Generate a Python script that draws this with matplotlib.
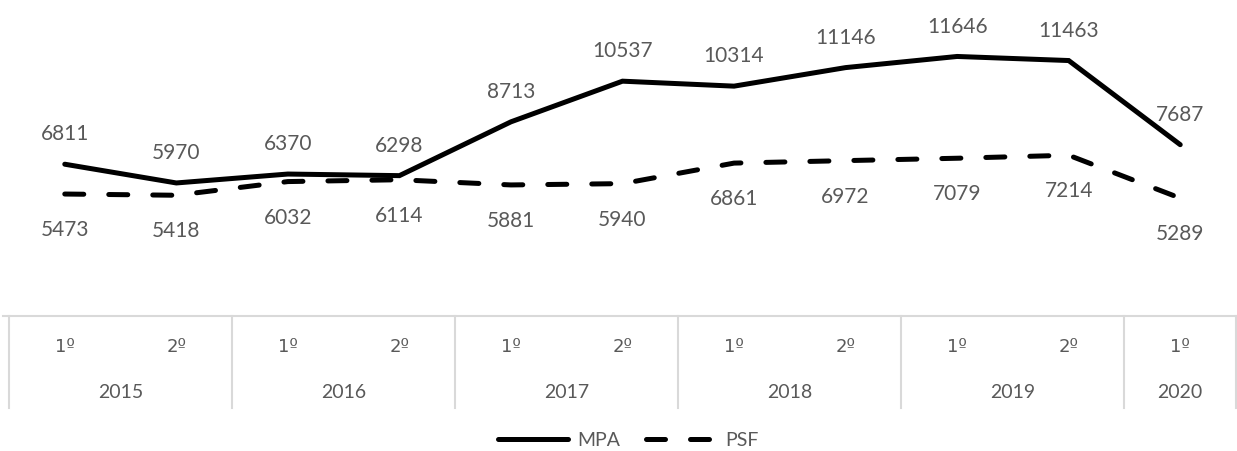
import matplotlib
matplotlib.use('Agg')
import matplotlib.pyplot as plt

# data
semesters = ['1º', '2º', '1º', '2º', '1º', '2º', '1º', '2º', '1º', '2º', '1º']
years = ['2015', '2016', '2017', '2018', '2019', '2020']
year_span = [2, 2, 2, 2, 2, 1]
mpa = [6811, 5970, 6370, 6298, 8713, 10537, 10314, 11146, 11646, 11463, 7687]
psf = [5473, 5418, 6032, 6114, 5881, 5940, 6861, 6972, 7079, 7214, 5289]

txt = '#595959'
grid = '#d9d9d9'
plt.rcParams['font.family'] = ['Lato', 'DejaVu Sans']

fig = plt.figure(figsize=(12.37, 4.51), dpi=100)
W, H = 1237.0, 451.0
ax = fig.add_axes([9 / W, (H - 316) / H, 1227 / W, 312 / H])
x = list(range(len(mpa)))

ax.plot(x, mpa, color='black', lw=3.6, solid_capstyle='round', solid_joinstyle='miter', label='MPA')
ax.plot(x, psf, color='black', lw=3.6, linestyle=(0, (3.8, 5.0)), dash_capstyle='round', label='PSF')

for i, v in enumerate(mpa):
    ax.annotate(str(v), (i, v), xytext=(0, 21.5), textcoords='offset points',
                ha='center', va='center', fontsize=15, color=txt)
for i, v in enumerate(psf):
    ax.annotate(str(v), (i, v), xytext=(0, -26), textcoords='offset points',
                ha='center', va='center', fontsize=15, color=txt)

ax.set_xlim(-0.5, len(mpa) - 0.5)
ax.set_ylim(0, 14000)
ax.axis('off')

# category table under the plot
tab = fig.add_axes([9 / W, (H - 408) / H, 1227 / W, 92 / H])
tab.set_xlim(-0.5, len(mpa) - 0.5)
tab.set_ylim(0, 1)
tab.axis('off')
tab.plot([-0.55, len(mpa) - 0.5], [1, 1], color=grid, lw=1.5, clip_on=False)
for i, s in enumerate(semesters):
    tab.text(i, 0.66, s, ha='center', va='center', fontsize=13, color=txt,
             family='DejaVu Sans')
start = 0
tab.plot([-0.5, -0.5], [0, 1], color=grid, lw=1.5, clip_on=False)
for y, n in zip(years, year_span):
    tab.text(start + (n - 1) / 2, 0.17, y, ha='center', va='center', fontsize=14, color=txt)
    start += n
    tab.plot([start - 0.5, start - 0.5], [0, 1], color=grid, lw=1.5, clip_on=False)

leg = fig.legend(loc='center', bbox_to_anchor=(0.508, 0.024), ncol=2, frameon=False,
                 fontsize=14, handlelength=3.6, columnspacing=1.3, handletextpad=0.5,
                 borderaxespad=0)
for t in leg.get_texts():
    t.set_color(txt)

fig.savefig('out.png', dpi=100)
